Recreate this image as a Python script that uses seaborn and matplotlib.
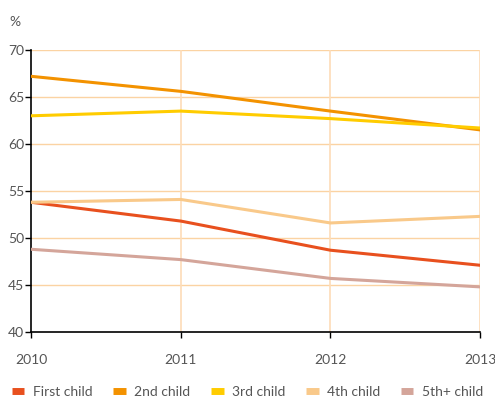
import pandas as pd
import numpy as np
import seaborn as sns
import matplotlib.pyplot as plt

sns.set_style("white")
plt.rcParams["font.family"] = ["Lato", "DejaVu Sans"]

years = [2010, 2011, 2012, 2013]
first_child = [53.8, 51.8, 48.7, 47.1]
second_child = [67.2, 65.6, 63.5, 61.5]
third_child = [63.0, 63.5, 62.7, 61.7]
fourth_child = [53.8, 54.1, 51.6, 52.3]
fifth_child = [48.8, 47.7, 45.7, 44.8]

names = ["First child", "2nd child", "3rd child", "4th child", "5th+ child"]
colors = ["#e8501e", "#f39200", "#ffcc00", "#f9c98a", "#d4a59a"]

series = [first_child, second_child, third_child, fourth_child, fifth_child]
df = pd.concat([pd.DataFrame({"year": years, "value": v, "group": n})
                for n, v in zip(names, series)])

fig = plt.figure(figsize=(4.95, 4.0), dpi=100)
ax = fig.add_axes([0.063, 0.17, 0.907, 0.705])

# grid first
for yv in [45, 50, 55, 60, 65, 70]:
    ax.axhline(yv, color="#fbd3a3", lw=1, zorder=0)
for xv in [2011, 2012, 2013]:
    ax.axvline(xv, color="#fddcb8", lw=1.2, zorder=0)

sns.lineplot(data=df, x="year", y="value", hue="group", palette=colors,
             hue_order=names, linewidth=2.2, ax=ax, legend=False, zorder=3)

ax.set_xlim(2010, 2013)
ax.set_ylim(40, 70)
ax.set_xticks(years)
ax.set_yticks([40, 45, 50, 55, 60, 65, 70])
ax.set_xlabel("")
ax.set_ylabel("")
for s in ["top", "right"]:
    ax.spines[s].set_visible(False)
for s in ["left", "bottom"]:
    ax.spines[s].set_color("black")
    ax.spines[s].set_linewidth(1.2)
ax.tick_params(axis="y", length=4, width=1, color="black", labelsize=10,
               labelcolor="#555555", pad=1, left=True)
ax.tick_params(axis="x", length=4, width=1, color="black", labelsize=10,
               labelcolor="#555555", pad=12, bottom=True)
fig.text(0.018, 0.935, "%", fontsize=10, color="#555555")

handles = [plt.Line2D([], [], color=c, lw=5, solid_capstyle="butt") for c in colors]
fig.legend(handles, names, loc="lower center", bbox_to_anchor=(0.5, -0.025),
           ncol=5, frameon=False, fontsize=10, handlelength=0.9,
           columnspacing=1.5, handletextpad=0.6, labelcolor="#555555")

fig.savefig("out.png", dpi=100)
